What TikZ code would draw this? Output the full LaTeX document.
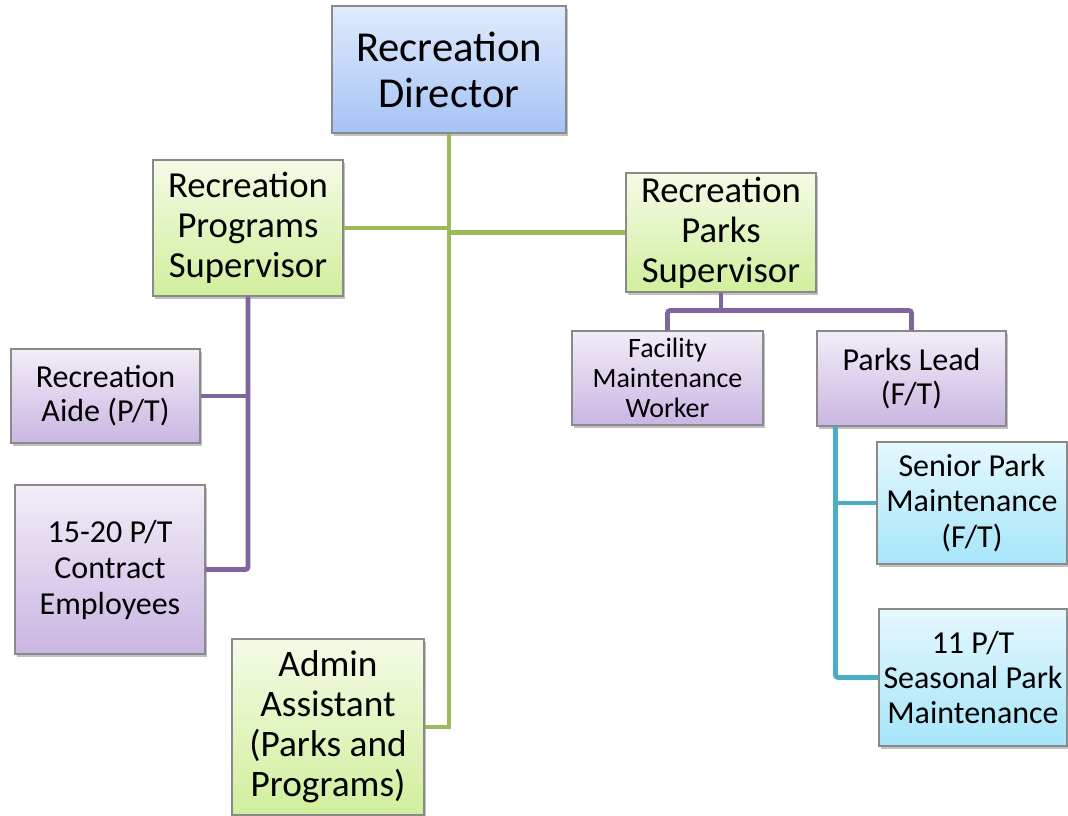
\documentclass[tikz,border=0pt]{standalone}
\usepackage{fontspec}
\setmainfont{Carlito}
\usetikzlibrary{shadows,calc}

% box fills (top / bottom of the vertical gradient)
\definecolor{blueTop}{HTML}{E0EBFC}
\definecolor{blueBot}{HTML}{A5C3F6}
\definecolor{greenTop}{HTML}{F4FBE6}
\definecolor{greenBot}{HTML}{D1EE9C}
\definecolor{purpTop}{HTML}{F2EDF8}
\definecolor{purpBot}{HTML}{CAB6E2}
\definecolor{cyanTop}{HTML}{E5F8FE}
\definecolor{cyanBot}{HTML}{A6E5F9}
% connector colours
\definecolor{lineGreen}{HTML}{9BBB59}
\definecolor{linePurple}{HTML}{8064A2}
\definecolor{lineTeal}{HTML}{4BACC6}
\definecolor{boxEdge}{HTML}{8A8A8A}

\tikzset{
  orgbox/.style={rectangle, draw=boxEdge, line width=0.8pt, align=center,
    inner sep=0pt,
    drop shadow={shadow xshift=1.6pt, shadow yshift=-2pt, opacity=0.35, fill=black!70}},
  sz/.style 2 args={minimum width=#1*0.75pt, minimum height=#2*0.75pt},
  bluebox/.style={orgbox, top color=blueTop, bottom color=blueBot},
  greenbox/.style={orgbox, top color=greenTop, bottom color=greenBot},
  purpbox/.style={orgbox, top color=purpTop, bottom color=purpBot},
  cyanbox/.style={orgbox, top color=cyanTop, bottom color=cyanBot},
  fs/.style 2 args={font=\fontsize{#1}{#2}\selectfont},
  link/.style={line width=3.6pt},
  glink/.style={link, draw=lineGreen},
  plink/.style={link, draw=linePurple, rounded corners=2pt},
  tlink/.style={link, draw=lineTeal, rounded corners=2pt},
}

\begin{document}
\begin{tikzpicture}[x=0.75pt, y=-0.75pt]
\useasboundingbox (0,0) rectangle (1068,816);

% boxes
\node[bluebox, sz={234}{127}, fs={32}{34.5}] (dir) at (449,69.5) {Recreation\\Director};
\node[greenbox, sz={190}{136}, fs={27.5}{30}] (prog) at (248,228) {Recreation\\Programs\\Supervisor};
\node[greenbox, sz={190}{119}, fs={27.5}{30}] (parks) at (721,232.5) {Recreation\\Parks\\Supervisor};
\node[purpbox, sz={191}{94}, fs={21}{22.5}] (fac) at (667.5,378) {Facility\\Maintenance\\Worker};
\node[purpbox, sz={189}{95}, fs={24}{26}] (lead) at (911.5,378.5) {Parks Lead\\(F/T)};
\node[cyanbox, sz={190}{122}, fs={24}{26.5}] (senior) at (972,503) {Senior Park\\Maintenance\\(F/T)};
\node[cyanbox, sz={188}{137}, fs={24}{26.5}] (seas) at (973,677.5) {11 P/T\\Seasonal Park\\Maintenance};
\node[purpbox, sz={189}{94}, fs={24}{25.5}] (aide) at (105.5,396) {Recreation\\Aide (P/T)};
\node[purpbox, sz={190}{169}, fs={24}{27}] (contract) at (110,569.5) {15-20 P/T\\Contract\\Employees};
\node[greenbox, sz={192}{176}, fs={28}{30}] (admin) at (328,727) {Admin\\Assistant\\(Parks and\\Programs)};

% director's line
\draw[glink] (dir.south) |- (admin.east);
\draw[glink] (prog.east) -- (prog.east -| dir.south);
\draw[glink] (dir.south |- parks.west) -- (parks.west);

% programs supervisor's staff
\draw[plink] (prog.south) |- (contract.east);
\draw[plink] (aide.east) -- (aide.east -| prog.south);

% parks supervisor's staff
\coordinate (pj) at ($(parks.south)+(0,18)$);
\draw[link, draw=linePurple] (parks.south) -- (pj);
\draw[plink] (pj) -| (fac.north);
\draw[plink] (pj) -| (lead.north);

% parks lead's crew
\coordinate (lt) at ($(lead.south west)+(19,0)$);
\draw[tlink] (lt) |- (seas.west);
\draw[tlink] (lt |- senior.west) -- (senior.west);
\end{tikzpicture}
\end{document}
